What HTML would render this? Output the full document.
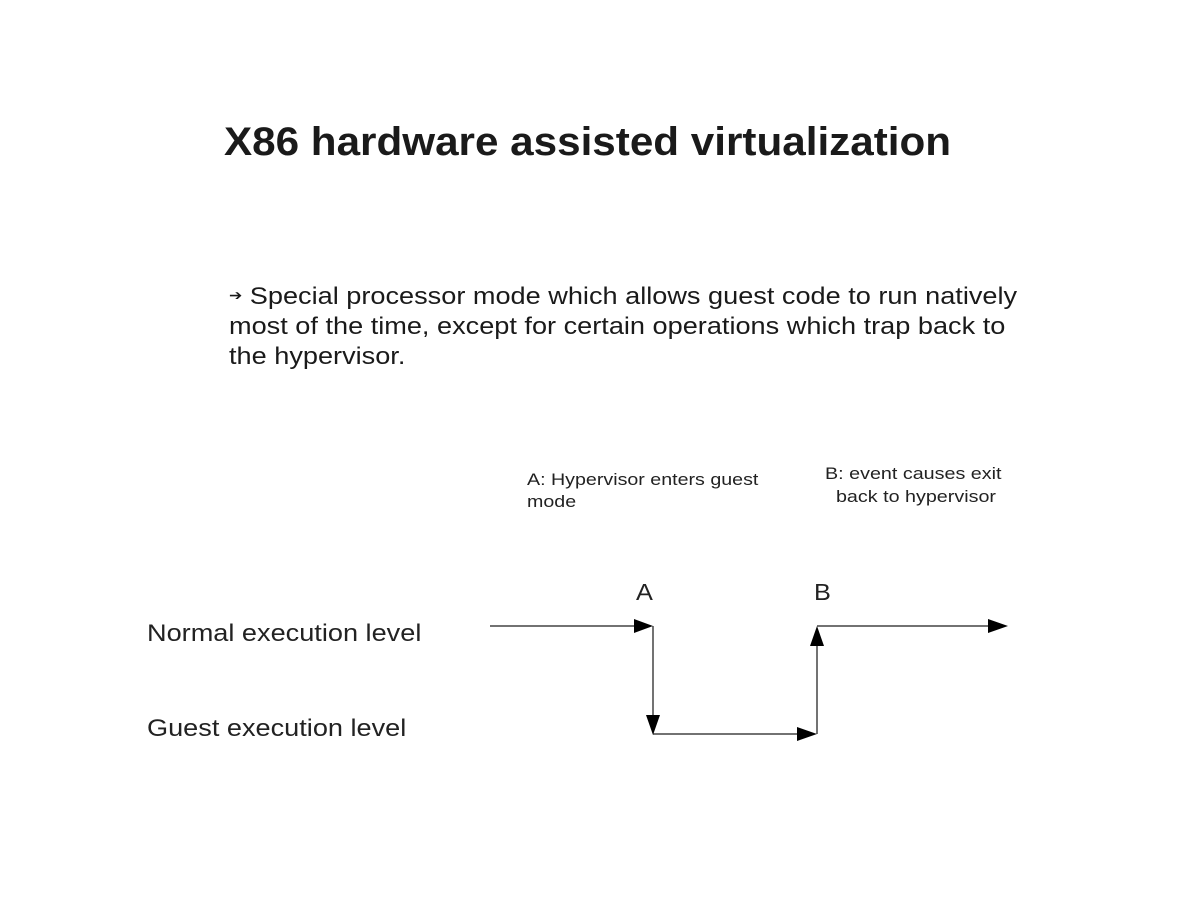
<!DOCTYPE html>
<html><head><style>
body{margin:0;width:1200px;height:900px;background:#fff;font-family:"Liberation Sans",sans-serif;color:#222;position:relative;overflow:hidden}
.t{position:absolute;white-space:nowrap;transform-origin:0 0}
</style></head><body>
<div class="t" style="left:224px;top:120px;font-size:40px;font-weight:bold;color:#1a1a1a;transform:scaleX(1.055)">X86 hardware assisted virtualization</div>
<div class="t" style="left:229px;top:280px;font-size:24px;line-height:30px;color:#1a1a1a;transform:scaleX(1.13)"><span style="font-size:14px;vertical-align:4px">➔</span> Special processor mode which allows guest code to run natively<br>most of the time, except for certain operations which trap back to<br>the hypervisor.</div>
<div class="t" style="left:527px;top:469px;font-size:17px;line-height:22px;transform:scaleX(1.155)">A: Hypervisor enters guest<br>mode</div>
<div class="t" style="left:825px;top:462px;font-size:17px;line-height:23px;transform:scaleX(1.16)">B: event causes exit<br>&nbsp;&nbsp;back to hypervisor</div>
<div class="t" style="left:636px;top:579px;font-size:23px;transform:scaleX(1.1)">A</div>
<div class="t" style="left:814px;top:579px;font-size:23px;transform:scaleX(1.1)">B</div>
<div class="t" style="left:147px;top:620px;font-size:24px;transform:scaleX(1.13)">Normal execution level</div>
<div class="t" style="left:147px;top:715px;font-size:24px;transform:scaleX(1.13)">Guest execution level</div>
<svg width="1200" height="900" style="position:absolute;left:0;top:0">
<g stroke="#444" stroke-width="1.5" fill="none">
<line x1="490" y1="626" x2="640" y2="626"/>
<line x1="653" y1="626" x2="653" y2="720"/>
<line x1="653" y1="734" x2="803" y2="734"/>
<line x1="817" y1="734" x2="817" y2="642"/>
<line x1="817" y1="626" x2="992" y2="626"/>
</g>
<g fill="#000">
<polygon points="634,619 653,626 634,633"/>
<polygon points="646,715 660,715 653,735"/>
<polygon points="797,727 817,734 797,741"/>
<polygon points="810,646 824,646 817,626"/>
<polygon points="988,619 1008,626 988,633"/>
</g>
</svg>
</body></html>
